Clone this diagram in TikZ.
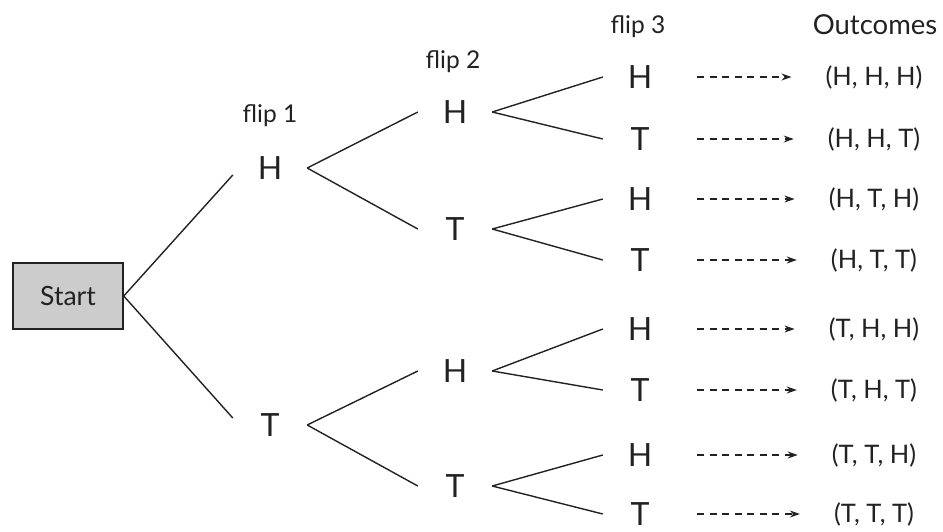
\documentclass[tikz,border=0pt]{standalone}
\usepackage{fontspec}
\setmainfont{Lato}
\usetikzlibrary{arrows.meta}
\definecolor{ink}{HTML}{222222}
\definecolor{boxfill}{HTML}{CCCCCC}
\begin{document}
\begin{tikzpicture}[x=1pt,y=-1pt,
  coin/.style={minimum width=74pt, inner sep=0pt, text=ink, font=\fontsize{32}{32}\selectfont},
  branch/.style={draw=ink, line width=1.4pt},
  lbl/.style={anchor=base, inner sep=0pt, text=ink, font=\fontsize{24.5}{24.5}\selectfont},
  outc/.style={anchor=center, inner sep=0pt, text=ink, font=\fontsize{25.5}{25.5}\selectfont},
  res/.style={draw=ink, line width=1.2pt, dash pattern=on 7pt off 5.5pt, -{Stealth[length=10pt,width=7pt]}, shorten <=20pt, shorten >=34pt},
  startbox/.style={draw=ink, fill=boxfill, line width=1.5pt, minimum width=110pt, minimum height=66pt, text=ink, font=\fontsize{26.5}{26.5}\selectfont}]
\useasboundingbox (0,0) rectangle (943,531);

\node[startbox] (S) at (68,296) {Start};

\node[lbl] (f1) at (270,122) {flip 1};
\node[lbl] (f2) at (453,68) {flip 2};
\node[lbl] (f3) at (638,33) {flip 3};
\node[lbl, font=\fontsize{27.5}{27.5}\selectfont] (oc) at (875,34) {Outcomes};

\node[coin] (H) at (270,168) {H};
\node[coin] (T) at (270,425) {T};

\node[coin] (HH) at (455,112) {H};
\node[coin] (HT) at (455,229) {T};
\node[coin] (TH) at (455,371) {H};
\node[coin] (TT) at (455,486) {T};

\node[coin] (HHH) at (640,77) {H};
\node[coin] (HHT) at (640,139) {T};
\node[coin] (HTH) at (640,199) {H};
\node[coin] (HTT) at (640,260) {T};
\node[coin] (THH) at (640,329) {H};
\node[coin] (THT) at (640,390) {T};
\node[coin] (TTH) at (640,455) {H};
\node[coin] (TTT) at (640,514) {T};

\foreach \n/\t/\y in {HHH/{(H, H, H)}/77, HHT/{(H, H, T)}/139, HTH/{(H, T, H)}/199, HTT/{(H, T, T)}/260,
                      THH/{(T, H, H)}/329, THT/{(T, H, T)}/390, TTH/{(T, T, H)}/455, TTT/{(T, T, T)}/514}
  \node[outc] (o\n) at (874,\y) {\t};

\draw[branch] (S.east) -- ([yshift=-7pt]H.west);
\draw[branch] (S.east) -- ([yshift=7pt]T.west);
\foreach \p in {H,T}{
  \draw[branch] (\p.east) -- (\p H.west);
  \draw[branch] (\p.east) -- (\p T.west);
}
\foreach \p in {HH,HT,TH,TT}{
  \draw[branch] (\p.east) -- (\p H.west);
  \draw[branch] (\p.east) -- (\p T.west);
}
\foreach \n in {HHH,HHT,HTH,HTT,THH,THT,TTH,TTT}
  \draw[res] (\n.east) -- (\n.east -| o\n.west);
\end{tikzpicture}
\end{document}
